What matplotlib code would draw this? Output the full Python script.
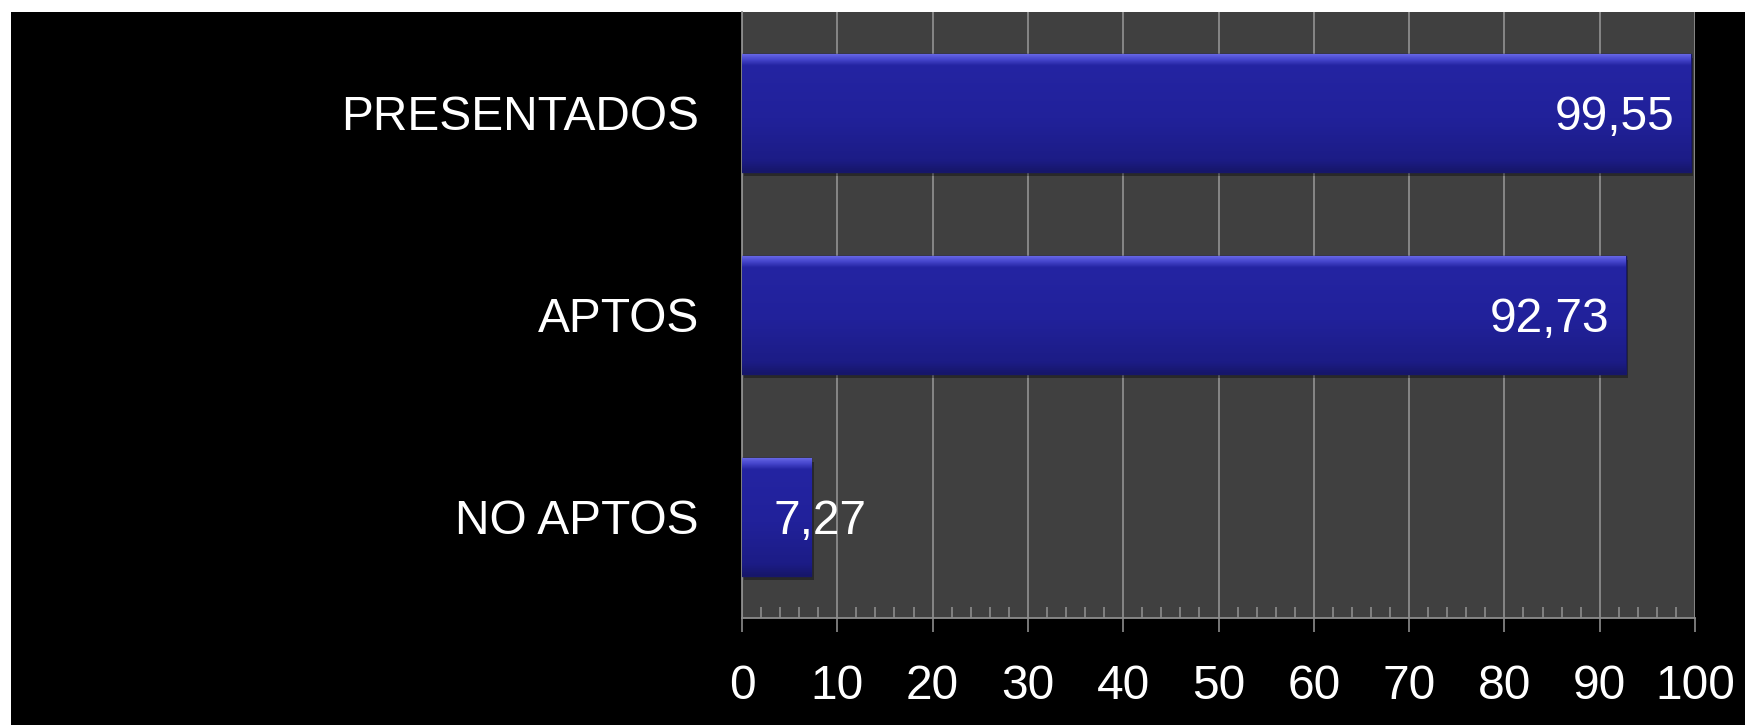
import numpy as np
import matplotlib
matplotlib.use("Agg")
import matplotlib.pyplot as plt
from matplotlib.patches import Rectangle
from matplotlib.colors import LinearSegmentedColormap

plt.rcParams['font.family'] = ['Liberation Sans', 'DejaVu Sans']

# datos
categorias = ["PRESENTADOS", "APTOS", "NO APTOS"]
valores = [99.55, 92.73, 7.27]
ticks_x = [0, 10, 20, 30, 40, 50, 60, 70, 80, 90, 100]

W, H = 1745, 725
fs = 34.5
fig = plt.figure(figsize=(W / 100, H / 100), dpi=100, facecolor='white')
# fondo negro (con el borde blanco arriba y a la izquierda)
fig.patches.append(Rectangle((11 / W, 0), 1 - 11 / W, (H - 12) / H,
                             transform=fig.transFigure, facecolor='black',
                             edgecolor='none', zorder=-5))

ax = fig.add_axes([742 / W, (H - 618) / H, (1695 - 742) / W, (618 - 12) / H])
ax.set_facecolor('#404040')

gris = '#8c8c8c'
y = np.arange(len(categorias))[::-1]
alto = 0.585
barras = ax.barh(y, valores, height=alto, color='#22229c',
                 edgecolor='#17176a', linewidth=1.0, zorder=3)

# degradado tipo bisel
cmap = LinearSegmentedColormap.from_list('bisel', [
    (0.0, '#6a6ae8'), (0.05, '#4646cc'), (0.1, '#2424a2'),
    (0.55, '#21219a'), (0.9, '#1c1c86'), (1.0, '#16166a')])
grad = np.linspace(0, 1, 200).reshape(-1, 1)
for b in barras:
    x0, y0 = b.get_x(), b.get_y()
    w, h = b.get_width(), b.get_height()
    im = ax.imshow(grad, cmap=cmap, aspect='auto',
                   extent=(x0, x0 + w, y0, y0 + h), origin='upper', zorder=3.5)
    im.set_clip_path(b)
    # sombra suave
    ax.add_patch(Rectangle((x0 + 0.25, y0 - 0.02), w, h, facecolor='black',
                           alpha=0.35, edgecolor='none', zorder=2.5))

ax.set_ylim(-0.5, len(categorias) - 0.5)
ax.set_xlim(0, 100)

for v, yy in zip(valores, y):
    txt = f"{v:.2f}".replace('.', ',')
    if v > 20:
        ax.annotate(txt, (v, yy), xytext=(-12, -3), textcoords='offset points',
                    ha='right', va='center', color='white', fontsize=fs, zorder=5)
    else:
        ax.annotate(txt, (0, yy), xytext=(23, -3), textcoords='offset points',
                    ha='left', va='center', color='white', fontsize=fs, zorder=5)

ax.set_yticks(y)
ax.set_yticklabels(categorias, color='white', fontsize=fs)
ax.tick_params(axis='y', length=0, pad=31)

ax.set_xticks(ticks_x)
ax.set_xticklabels([str(t) for t in ticks_x], color='white', fontsize=fs)
ax.set_xticks(np.arange(0, 101, 2), minor=True)
ax.tick_params(axis='x', which='major', direction='out', length=10,
               color=gris, width=1.2, pad=23)
ax.tick_params(axis='x', which='minor', direction='in', length=8,
               color=gris, width=1.2)

ax.grid(axis='x', which='major', color=gris, linewidth=1.3, zorder=1)
ax.set_axisbelow(True)
for lado in ['top', 'right']:
    ax.spines[lado].set_visible(False)
ax.spines['left'].set_color(gris)
ax.spines['bottom'].set_color(gris)
ax.spines['left'].set_linewidth(1.3)
ax.spines['bottom'].set_linewidth(1.3)

fig.savefig('out.png', dpi=100, facecolor=fig.get_facecolor())
